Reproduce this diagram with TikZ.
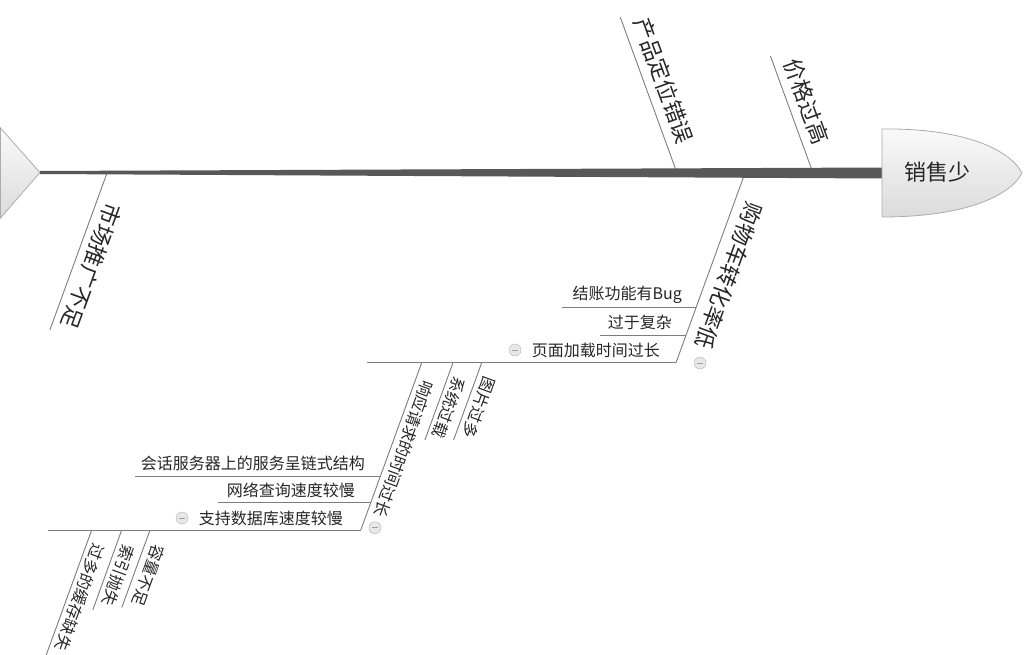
\documentclass[tikz,border=0pt]{standalone}
\usepackage{fontspec}
\setmainfont{Noto Sans CJK SC}
\usetikzlibrary{calc}
\definecolor{spinecol}{RGB}{88,88,88}
\definecolor{bline}{RGB}{125,125,125}
\begin{document}
\begin{tikzpicture}[x=1pt,y=-1pt,
  bl/.style={draw=bline, line width=0.9pt},
  mainlbl/.style={font=\fontsize{22}{22}\selectfont, inner sep=0pt, text=black!85},
  sublbl/.style={font=\fontsize{16}{16}\selectfont, inner sep=0pt, text=black!85},
  fold/.style={circle, draw=gray!60, fill=gray!18, minimum size=12pt, inner sep=0pt,
    path picture={\draw[gray!75, line width=0.8pt] ([xshift=-3pt]path picture bounding box.center) -- ([xshift=3pt]path picture bounding box.center);}},
  endshape/.style={draw=gray!65, line width=0.8pt, top color=gray!4, bottom color=gray!28}
]
\useasboundingbox (0,0) rectangle (1024,655);

% ---------- main branches (drawn under the spine) ----------
\coordinate (b1s) at (677,173);   \coordinate (b1e) at (620.2,17);
\coordinate (b2s) at (813,173);   \coordinate (b2e) at (770.4,56);
\coordinate (b3s) at (107,173);   \coordinate (b3e) at (49.9,330);
\coordinate (b4s) at (745,173);   \coordinate (b4e) at (676,362.7);
\draw[bl] (b1s) -- (b1e);
\draw[bl] (b2s) -- (b2e);
\draw[bl] (b3s) -- (b3e);
\draw[bl] (b4s) -- (b4e);

% ---------- tail, spine, head ----------
\coordinate (tailtip) at (40,172.5);
\coordinate (headL) at (882,173);
\draw[endshape] (0.5,128) -- (tailtip) -- (0.5,218) -- cycle;
\fill[spinecol] ($(tailtip)+(0,-1.5)$) -- ($(headL)+(0,-5.5)$) -- ($(headL)+(0,5.5)$) -- ($(tailtip)+(0,1.5)$) -- cycle;
\draw[endshape] (882,129) .. controls (965,128) and (1010,150) .. (1022,173)
  .. controls (1010,196) and (965,217) .. (882,217) -- cycle;
\node[mainlbl] (effect) at (937,172) {销售少};

% ---------- main labels ----------
\node[mainlbl, rotate=-70]  (l1) at (663.5,80.5) {产品定位错误};
\node[mainlbl, rotate=-70]  (l2) at (806.5,101.5) {价格过高};
\node[mainlbl, rotate=-110] (l3) at (91.7,266.5) {市场推广不足};
\node[mainlbl, rotate=-110] (l4) at (729,276) {购物车转化率低};
\node[fold] (f4) at (700,363) {};

% ---------- children of 购物车转化率低 ----------
\coordinate (s1r) at (696.0,307.7); \coordinate (s1l) at (562,307.7);
\coordinate (s2r) at (686.0,335);   \coordinate (s2l) at (600,335);
\coordinate (s3l) at (367,362.7);
\draw[bl] (s1r) -- (s1l);
\draw[bl] (s2r) -- (s2l);
\draw[bl] (b4e) -- (s3l);
\node[sublbl, anchor=east] (t1) at (682,295) {结账功能有Bug};
\node[sublbl, anchor=east] (t2) at (672,322) {过于复杂};
\node[sublbl, anchor=east] (t3) at (660,350) {页面加载时间过长};
\node[fold] (f3) at (515,350) {};

% ---------- children of 页面加载时间过长 ----------
\coordinate (d1s) at (481.7,362.7); \coordinate (d1e) at (453.6,440);
\coordinate (d2s) at (453,362.7);   \coordinate (d2e) at (424.9,440);
\coordinate (d3s) at (421.7,362.7); \coordinate (d3e) at (360.8,530);
\draw[bl] (d1s) -- (d1e);
\draw[bl] (d2s) -- (d2e);
\draw[bl] (d3s) -- (d3e);
\node[sublbl, rotate=-110] (u1) at (479,408) {图片过多};
\node[sublbl, rotate=-110] (u2) at (449,408) {系统过载};
\node[sublbl, rotate=-110] (u3) at (404,449) {响应请求的时间过长};
\node[fold] (fu3) at (375,527.7) {};

% ---------- children of 响应请求的时间过长 ----------
\coordinate (h1r) at (380.2,476.7); \coordinate (h1l) at (135,476.7);
\coordinate (h2r) at (370.7,502.7); \coordinate (h2l) at (218,502.7);
\coordinate (h3l) at (48,530);
\draw[bl] (h1r) -- (h1l);
\draw[bl] (h2r) -- (h2l);
\draw[bl] (d3e) -- (h3l);
\node[sublbl, anchor=east] (v1) at (365,463) {会话服务器上的服务呈链式结构};
\node[sublbl, anchor=east] (v2) at (355,490) {网络查询速度较慢};
\node[sublbl, anchor=east] (v3) at (343,518) {支持数据库速度较慢};
\node[fold] (fv3) at (182,518) {};

% ---------- children of 支持数据库速度较慢 ----------
\coordinate (e1s) at (150,530);   \coordinate (e1e) at (121.8,607.5);
\coordinate (e2s) at (121.7,530); \coordinate (e2e) at (92.8,610);
\coordinate (e3s) at (91.7,530);  \coordinate (e3e) at (44.4,660);
\draw[bl] (e1s) -- (e1e);
\draw[bl] (e2s) -- (e2e);
\draw[bl] (e3s) -- (e3e);
\node[sublbl, rotate=-110] (w1) at (148.3,575.8) {容量不足};
\node[sublbl, rotate=-110] (w2) at (118.3,575.8) {索引抛失};
\node[sublbl, rotate=-110] (w3) at (80,597.5) {过多的缓存缺失};
\end{tikzpicture}
\end{document}
